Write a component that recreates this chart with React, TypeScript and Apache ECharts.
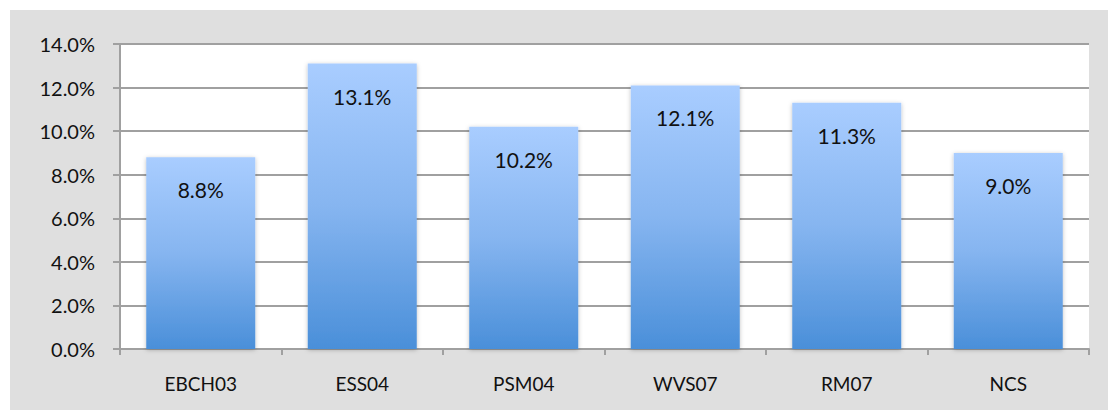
import React, { useEffect, useRef } from "react";
import * as echarts from "echarts";

const categories = ["EBCH03", "ESS04", "PSM04", "WVS07", "RM07", "NCS"];
const values = [8.8, 13.1, 10.2, 12.1, 11.3, 9.0];

export default function App() {
  const ref = useRef<HTMLDivElement>(null);
  useEffect(() => {
    if (!ref.current) return;
    const chart = echarts.init(ref.current, null, { renderer: "svg" });
    const font = "Lato, 'Noto Sans', sans-serif";
    chart.setOption({
      animation: false,
      backgroundColor: "#ffffff",
      graphic: [
        {
          type: "rect",
          shape: { x: 10, y: 10, width: 1098, height: 400 },
          style: { fill: "#dfdfdf" },
          z: -10,
          silent: true,
        },
      ],
      grid: {
        left: 120,
        right: 19,
        top: 44,
        bottom: 61,
        show: true,
        backgroundColor: "#ffffff",
        borderWidth: 0,
      },
      xAxis: {
        type: "category",
        data: categories,
        axisLine: { lineStyle: { color: "#a0a0a0", width: 2 } },
        axisTick: { show: true, length: 6, lineStyle: { color: "#a0a0a0", width: 2 } },
        axisLabel: { color: "#111", fontSize: 19, fontFamily: font, margin: 25 },
      },
      yAxis: {
        type: "value",
        min: 0,
        max: 14,
        interval: 2,
        axisLine: { show: true, lineStyle: { color: "#a0a0a0", width: 2 } },
        axisTick: { show: true, length: 7, lineStyle: { color: "#a0a0a0", width: 2 } },
        splitLine: { lineStyle: { color: "#a0a0a0", width: 2 } },
        axisLabel: {
          color: "#111",
          fontSize: 20,
          fontFamily: font,
          margin: 25,
          formatter: (v: number) => v.toFixed(1) + "%",
        },
      },
      series: [
        {
          type: "bar",
          data: values,
          barWidth: 109,
          itemStyle: {
            color: new echarts.graphic.LinearGradient(0, 0, 0, 1, [
              { offset: 0, color: "#a9cdff" },
              { offset: 0.5, color: "#86b5f0" },
              { offset: 1, color: "#4a8fd9" },
            ]),
            shadowColor: "rgba(0,0,0,0.25)",
            shadowBlur: 4,
            shadowOffsetY: 1,
          },
          label: {
            show: true,
            position: "insideTop",
            distance: 22,
            color: "#111",
            fontSize: 21,
            fontFamily: font,
            formatter: (p: any) => p.value.toFixed(1) + "%",
          },
        },
      ],
    });
    return () => chart.dispose();
  }, []);
  return (
    <div
      ref={ref}
      style={{ position: "absolute", left: 0, top: 0, width: 1108, height: 410 }}
    />
  );
}
